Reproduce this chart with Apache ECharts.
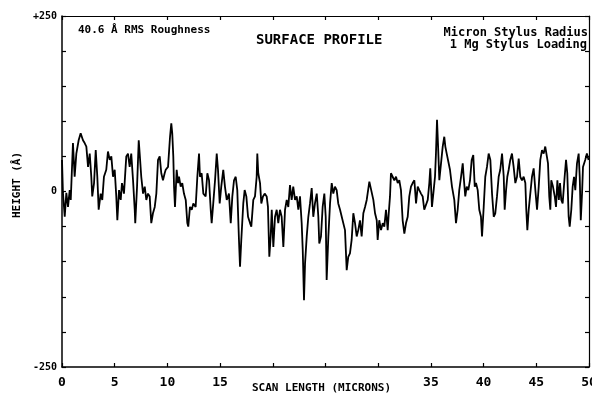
<!DOCTYPE html>
<html>
<head>
<meta charset="utf-8">
<script src="https://cdn.jsdelivr.net/npm/echarts@6/dist/echarts.min.js"></script>
<style>html,body{margin:0;padding:0;background:#fff}#c{width:592px;height:396px}</style>
</head>
<body>
<div id="c"></div>
<script>
// Scan position (microns)
const scanX = [
0.00,0.09,0.26,0.41,0.57,0.73,0.83,1.04,1.20,1.36,
1.58,1.77,1.99,2.15,2.31,2.47,2.63,2.78,2.87,3.04,
3.20,3.35,3.48,3.67,3.82,3.98,4.20,4.36,4.53,4.68,
4.84,5.00,5.15,5.25,5.41,5.57,5.69,5.88,6.10,6.26,
6.42,6.57,6.74,6.90,6.95,7.12,7.28,7.37,7.52,7.69,
7.85,8.00,8.16,8.32,8.47,8.63,8.80,8.95,9.11,9.27,
9.42,9.58,9.74,9.84,10.06,10.25,10.37,10.46,10.56,10.63,
10.72,10.88,11.01,11.10,11.26,11.41,11.57,11.74,11.89,11.98,
12.14,12.31,12.46,12.68,12.84,13.00,13.09,13.25,13.41,13.63,
13.79,13.95,14.11,14.20,14.35,14.52,14.68,14.80,14.96,15.11,
15.30,15.46,15.63,15.84,16.01,16.16,16.32,16.48,16.63,16.79,
16.89,17.01,17.20,17.33,17.49,17.65,17.84,17.96,18.15,18.31,
18.47,18.53,18.62,18.79,18.91,19.07,19.23,19.42,19.54,19.67,
19.80,19.90,20.05,20.21,20.37,20.52,20.68,20.84,21.00,21.16,
21.32,21.47,21.63,21.79,21.94,22.11,22.27,22.42,22.58,22.74,
22.84,22.96,23.06,23.22,23.37,23.53,23.69,23.84,24.00,24.17,
24.32,24.41,24.57,24.73,24.89,25.02,25.11,25.27,25.43,25.59,
25.74,25.90,26.06,26.21,26.38,26.54,26.69,26.85,27.01,27.16,
27.32,27.48,27.64,27.80,27.96,28.11,28.27,28.43,28.59,28.75,
28.91,29.16,29.54,29.70,29.86,29.95,30.10,30.27,30.43,30.58,
30.74,30.90,31.00,31.12,31.21,31.37,31.53,31.69,31.85,32.00,
32.16,32.32,32.48,32.64,32.80,32.95,33.11,33.27,33.43,33.59,
33.75,33.90,34.06,34.22,34.37,34.54,34.70,34.85,34.94,35.10,
35.23,35.39,35.48,35.58,35.67,35.80,35.96,36.12,36.27,36.37,
36.50,36.81,37.00,37.22,37.38,37.54,37.69,37.86,38.02,38.11,
38.26,38.40,38.55,38.71,38.87,39.02,39.16,39.28,39.44,39.59,
39.75,39.85,40.01,40.16,40.32,40.48,40.64,40.80,40.96,41.11,
41.27,41.43,41.58,41.75,41.91,42.00,42.13,42.25,42.38,42.53,
42.69,42.85,43.01,43.17,43.33,43.48,43.64,43.80,43.96,44.05,
44.15,44.28,44.43,44.59,44.75,44.91,45.07,45.23,45.38,45.54,
45.70,45.85,46.02,46.11,46.23,46.33,46.42,46.58,46.75,46.87,
47.00,47.14,47.25,47.37,47.50,47.69,47.82,47.94,48.07,48.17,
48.32,48.45,48.58,48.70,48.86,49.02,49.12,49.22,49.34,49.43,
49.64,49.80,49.96
];
// Surface height (Angstrom)
const heightA = [
45,-2,-36,-2,-22,2,-12,69,21,54,
73,83,73,69,64,35,54,21,-7,12,
59,21,-26,-3,-12,21,31,57,45,50,
21,31,-7,-41,2,-12,12,-3,50,54,
35,54,16,-26,-45,7,73,54,21,-3,
7,-12,-3,-7,-45,-31,-22,-3,45,50,
26,16,26,31,35,78,97,83,50,7,
-22,31,12,21,7,12,-3,-12,-45,-50,
-22,-26,-17,-22,21,54,21,26,-3,-7,
26,16,-26,-45,-17,16,54,31,-17,7,
31,7,-12,-3,-45,-7,16,21,2,-69,
-107,-69,-17,2,-7,-36,-45,-50,-12,-7,
21,54,26,12,-17,-7,-3,-7,-22,-93,
-64,-26,-79,-36,-26,-45,-26,-36,-79,-26,
-12,-22,9,-12,7,-12,-7,-26,-7,-45,
-83,-155,-102,-64,-36,-17,5,-36,-17,-3,
-36,-74,-64,-22,-3,-36,-126,-64,-17,12,
-3,7,2,-17,-26,-36,-36,-55,-112,-93,
-88,-69,-31,-45,-64,-55,-41,-64,-31,-22,
-12,14,-12,-31,-41,-69,-41,-55,-45,-50,
-26,-55,-31,-7,26,21,16,21,12,16,
2,-41,-60,-45,-36,-7,7,12,16,-17,
7,2,-3,-7,-26,-26,-12,12,33,-22,
-3,21,54,102,69,16,40,64,78,64,
54,31,7,-12,-45,-26,2,21,40,21,
-7,7,2,16,45,52,7,12,2,-26,
-36,-64,-22,21,35,54,45,-3,-36,-31,
-7,21,31,54,21,-26,2,21,31,45,
54,35,12,21,47,21,16,21,12,-26,
-55,-26,-3,21,33,2,-26,7,45,59,
54,64,66,40,-7,-26,16,7,-7,-22,
16,-12,12,-12,-17,21,45,26,-36,-50,
-26,7,21,2,40,54,21,-41,-3,35,
45,54,45
];
// Tick labels shown on the axes
const xTickLabels = [0, 5, 10, 15, 35, 40, 45, 50];
const yTickLabels = { '250': '+250', '0': '0', '-250': '-250' };

const MONO = '"DejaVu Sans Mono", "Liberation Mono", monospace';
const pts = [];
for (let i = 0; i < Math.min(scanX.length, heightA.length); i++) pts.push([scanX[i], heightA[i]]);

const axLine = { show: true, onZero: false, lineStyle: { color: '#000', width: 1.5 } };
const axLineThin = { show: true, onZero: false, lineStyle: { color: '#000', width: 1.2 } };
const axTick = { show: true, inside: true, length: 4, lineStyle: { color: '#000', width: 1.2 } };

const chart = echarts.init(document.getElementById('c'), null, { renderer: 'canvas' });
chart.setOption({
  animation: false,
  backgroundColor: '#fff',
  grid: { left: 62, right: 3, top: 16, bottom: 29, containLabel: false, outerBoundsMode: 'none' },
  xAxis: [
    { type: 'value', min: 0, max: 50, interval: 5, position: 'bottom',
      axisLine: axLine, axisTick: axTick, splitLine: { show: false },
      axisLabel: { showMinLabel: true, showMaxLabel: true, margin: 9, color: '#000',
        fontFamily: MONO, fontWeight: 'bold', fontSize: 13, hideOverlap: false,
        formatter: v => xTickLabels.includes(v) ? String(v) : '' } },
    { type: 'value', min: 0, max: 50, interval: 5, position: 'top',
      axisLine: axLineThin, axisTick: axTick,
      axisLabel: { show: false }, splitLine: { show: false } }
  ],
  yAxis: [
    { type: 'value', min: -250, max: 250, interval: 50, position: 'left',
      axisLine: axLine, axisTick: axTick, splitLine: { show: false },
      axisLabel: { showMinLabel: true, showMaxLabel: true, margin: 5, color: '#000',
        fontFamily: MONO, fontWeight: 'bold', fontSize: 10,
        formatter: v => yTickLabels[String(v)] || '' } },
    { type: 'value', min: -250, max: 250, interval: 50, position: 'right',
      axisLine: axLineThin, axisTick: axTick,
      axisLabel: { show: false }, splitLine: { show: false } }
  ],
  series: [{
    type: 'line', xAxisIndex: 0, yAxisIndex: 0, data: pts,
    showSymbol: false, symbol: 'none', clip: true,
    lineStyle: { color: '#000', width: 1.8 }
  }],
  graphic: [
    { type: 'text', left: 78, top: 25, style: { text: '40.6 Å RMS Roughness', font: 'bold 11px ' + MONO, fill: '#000' } },
    { type: 'text', left: 256, top: 33, style: { text: 'SURFACE PROFILE', font: 'bold 14px ' + MONO, fill: '#000' } },
    { type: 'text', right: 4, top: 27, style: { text: 'Micron Stylus Radius', font: 'bold 12px ' + MONO, fill: '#000' } },
    { type: 'text', right: 5, top: 39, style: { text: '1 Mg Stylus Loading', font: 'bold 12px ' + MONO, fill: '#000' } },
    { type: 'text', left: 252, top: 383, style: { text: 'SCAN LENGTH (MICRONS)', font: 'bold 11px ' + MONO, fill: '#000' } },
    { type: 'text', x: 17, y: 185, rotation: Math.PI / 2,
      style: { text: 'HEIGHT (Å)', font: 'bold 11px ' + MONO, fill: '#000', align: 'center', verticalAlign: 'middle' } }
  ]
});
</script>
</body>
</html>
